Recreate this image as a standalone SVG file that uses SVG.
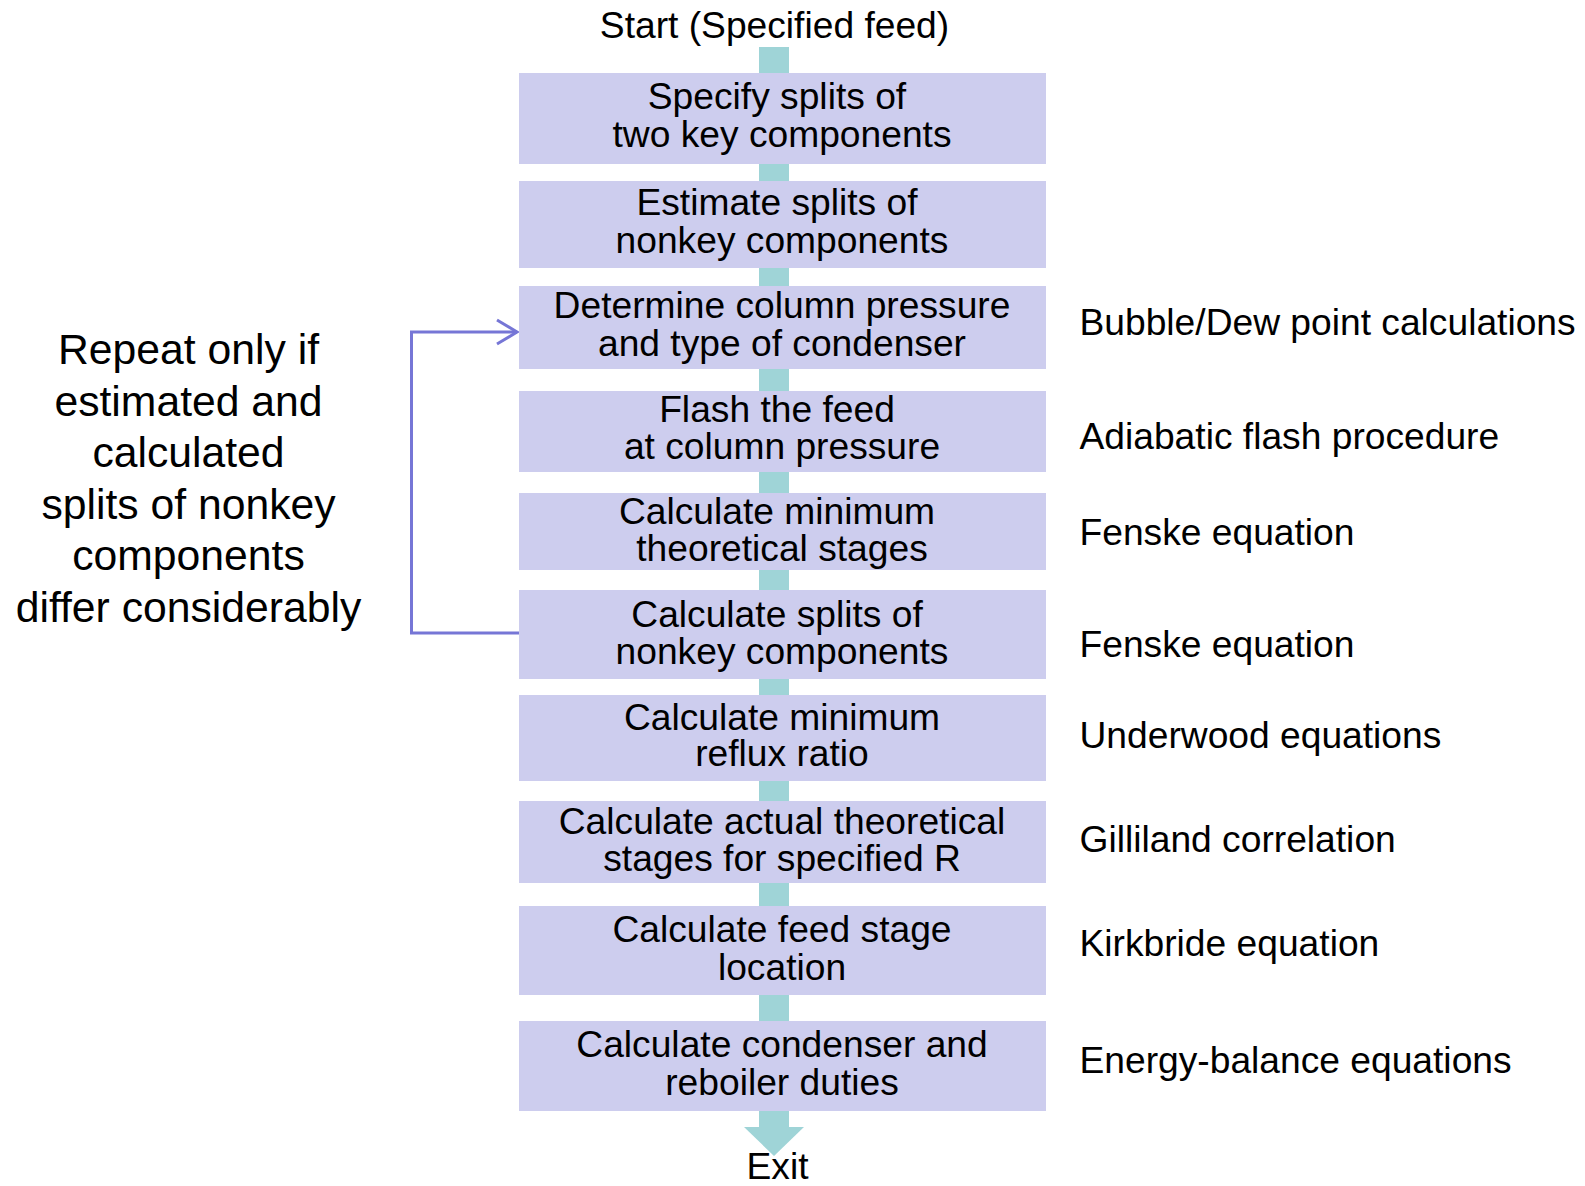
<svg xmlns="http://www.w3.org/2000/svg" width="1585" height="1186" viewBox="0 0 1585 1186">
<style>
text{font-family:"Liberation Sans",Arial,sans-serif;fill:#000}
.box{fill:#cdcdee}
.t{font-size:37.2px;text-anchor:middle}
.r{font-size:37.2px}
.l{font-size:42.7px;text-anchor:middle}
.flow{fill:#9fd4d7}
.fb{fill:none;stroke:#7676d6;stroke-width:3}
</style>
<rect width="1585" height="1186" fill="#fff"/>
<g id="connectors">
<rect class="flow" x="759" y="47" width="30" height="1081"/>
<polygon class="flow" points="744,1127 804,1127 774,1156"/>
<path class="fb" d="M519,633 H411.5 V332 H517"/>
<path class="fb" d="M497,320 L517,332 L497,344"/>
</g>
<g id="start"><text class="t" x="774.5" y="38">Start (Specified feed)</text></g>
<g id="n1"><rect class="box" x="519" y="73" width="527" height="91"/>
<text class="t"><tspan x="777" y="109">Specify splits of</tspan><tspan x="782" y="146.5">two key components</tspan></text></g>
<g id="n2"><rect class="box" x="519" y="181" width="527" height="87"/>
<text class="t"><tspan x="777" y="215">Estimate splits of</tspan><tspan x="782" y="252.5">nonkey components</tspan></text></g>
<g id="n3"><rect class="box" x="519" y="286" width="527" height="83"/>
<text class="t"><tspan x="782" y="318">Determine column pressure</tspan><tspan x="782" y="355.5">and type of condenser</tspan></text></g>
<g id="n4"><rect class="box" x="519" y="391" width="527" height="81"/>
<text class="t"><tspan x="777" y="422">Flash the feed</tspan><tspan x="782" y="459">at column pressure</tspan></text></g>
<g id="n5"><rect class="box" x="519" y="493" width="527" height="77"/>
<text class="t"><tspan x="777" y="523.5">Calculate minimum</tspan><tspan x="782" y="561">theoretical stages</tspan></text></g>
<g id="n6"><rect class="box" x="519" y="590" width="527" height="89"/>
<text class="t"><tspan x="777" y="626.5">Calculate splits of</tspan><tspan x="782" y="664">nonkey components</tspan></text></g>
<g id="n7"><rect class="box" x="519" y="695" width="527" height="86"/>
<text class="t"><tspan x="782" y="730">Calculate minimum</tspan><tspan x="782" y="766">reflux ratio</tspan></text></g>
<g id="n8"><rect class="box" x="519" y="801" width="527" height="82"/>
<text class="t"><tspan x="782" y="834">Calculate actual theoretical</tspan><tspan x="782" y="871">stages for specified R</tspan></text></g>
<g id="n9"><rect class="box" x="519" y="906" width="527" height="89"/>
<text class="t"><tspan x="782" y="942">Calculate feed stage</tspan><tspan x="782" y="979.5">location</tspan></text></g>
<g id="n10"><rect class="box" x="519" y="1021" width="527" height="90"/>
<text class="t"><tspan x="782" y="1057">Calculate condenser and</tspan><tspan x="782" y="1094.5">reboiler duties</tspan></text></g>
<g id="exit"><text class="t" x="777.5" y="1178.5">Exit</text></g>
<g id="methods">
<text class="r" x="1079.5" y="334.5">Bubble/Dew point calculations</text>
<text class="r" x="1079.5" y="449">Adiabatic flash procedure</text>
<text class="r" x="1079.5" y="545">Fenske equation</text>
<text class="r" x="1079.5" y="657">Fenske equation</text>
<text class="r" x="1079.5" y="748">Underwood equations</text>
<text class="r" x="1079.5" y="852">Gilliland correlation</text>
<text class="r" x="1079.5" y="956">Kirkbride equation</text>
<text class="r" x="1079.5" y="1072.5">Energy-balance equations</text>
</g>
<g id="repeat-note">
<text class="l"><tspan x="188.5" y="364">Repeat only if</tspan><tspan x="188.5" y="415.5">estimated and</tspan><tspan x="188.5" y="467">calculated</tspan><tspan x="188.5" y="518.5">splits of nonkey</tspan><tspan x="188.5" y="570">components</tspan><tspan x="188.5" y="621.5">differ considerably</tspan></text>
</g>
</svg>
